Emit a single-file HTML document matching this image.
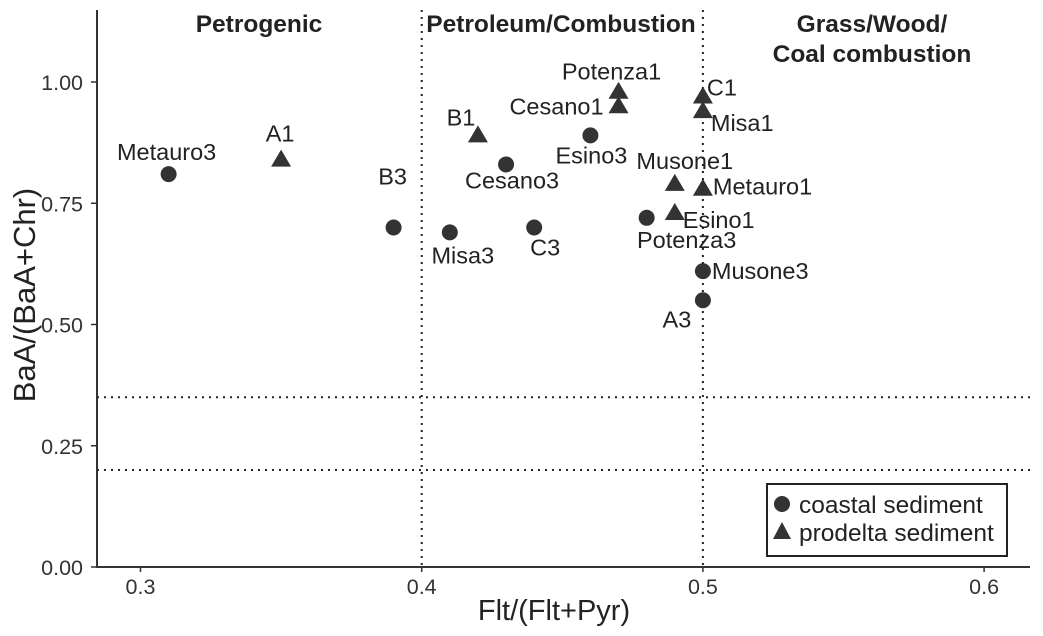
<!DOCTYPE html>
<html><head><meta charset="utf-8"><style>
body{margin:0;background:#fff;}
svg{display:block;font-family:"Liberation Sans",Arial,sans-serif;}
</style></head><body>
<svg id="chart" width="1043" height="636" viewBox="0 0 1043 636"></svg>
<script>
const coastalNames=["Metauro3","B3","Misa3","Cesano3","C3","Esino3","Potenza3","Musone3","A3"];
const coastalX=[0.31,0.39,0.41,0.43,0.44,0.46,0.48,0.50,0.50];
const coastalY=[0.81,0.70,0.69,0.83,0.70,0.89,0.72,0.61,0.55];
const prodeltaNames=["A1","B1","Potenza1","Cesano1","C1","Misa1","Musone1","Metauro1","Esino1"];
const prodeltaX=[0.35,0.42,0.47,0.47,0.50,0.50,0.49,0.50,0.49];
const prodeltaY=[0.84,0.89,0.98,0.95,0.97,0.94,0.79,0.78,0.73];
const xTicks=[0.3,0.4,0.5,0.6];
const yTicks=[0,0.25,0.5,0.75,1.0];
const yTickLabels=["0.00","0.25","0.50","0.75","1.00"];
const vLines=[0.4,0.5];
const hLines=[0.35,0.2];
// label offsets (px) relative to point, with anchor
const coastalOff=[[-2,-22,'middle'],[-1,-51,'middle'],[13,23,'middle'],[6,16,'middle'],[11,20,'middle'],[1,20,'middle'],[40,22,'middle'],[9,0,'start'],[-26,19,'middle']];
const prodeltaOff=[[-1,-26,'middle'],[-17,-18,'middle'],[-7,-20,'middle'],[-15,0,'end'],[4,-9,'start'],[8,12,'start'],[10,-23,'middle'],[10,-2,'start'],[8,7,'start']];

const L=97,R=1030,T=10,B=567;
const sx=v=>140.5+(v-0.3)*2812;
const sy=v=>567-v*485;
const svg=document.getElementById('chart');
const NS='http://www.w3.org/2000/svg';
function mk(tag,attrs,parent){const e=document.createElementNS(NS,tag);for(const k in attrs)e.setAttribute(k,attrs[k]);(parent||svg).appendChild(e);return e;}

vLines.forEach((v,i)=>{const l=mk('line',{x1:sx(v),x2:sx(v),y1:T,y2:B,stroke:'#222','stroke-width':2,'stroke-dasharray':'2,5'});

});
hLines.forEach((v,i)=>{const l=mk('line',{x1:L,x2:R,y1:sy(v),y2:sy(v),stroke:'#222','stroke-width':2,'stroke-dasharray':'2,5'});

});

const ax=mk('path',{d:`M${L},${T}V${B}H${R}`,fill:'none',stroke:'#333','stroke-width':2});


xTicks.forEach((v,i)=>{mk('line',{x1:sx(v),x2:sx(v),y1:B,y2:B+5,stroke:'#333','stroke-width':1.5});
const t=mk('text',{x:sx(v),y:B+27,'text-anchor':'middle','font-size':21.5,fill:'#333'});t.textContent=v.toFixed(1);

});
yTicks.forEach((v,i)=>{mk('line',{x1:L-6,x2:L,y1:sy(v),y2:sy(v),stroke:'#333','stroke-width':1.5});
const t=mk('text',{x:L-14,y:sy(v)+8,'text-anchor':'end','font-size':21.5,fill:'#333'});t.textContent=yTickLabels[i];

});
const xt=mk('text',{x:554,y:620,'text-anchor':'middle','font-size':29,fill:'#222'});xt.textContent='Flt/(Flt+Pyr)';


const yt=mk('text',{x:0,y:0,transform:'translate(35,295) rotate(-90)','text-anchor':'middle','font-size':31,fill:'#222'});yt.textContent='BaA/(BaA+Chr)';



[["Petrogenic",259,32],["Petroleum/Combustion",561,32],["Grass/Wood/",872,32],["Coal combustion",872,62]].forEach(r=>{
const t=mk('text',{x:r[1],y:r[2],'text-anchor':'middle','font-size':24.5,'font-weight':'bold',fill:'#222'});t.textContent=r[0];

});

function label(name,x,y,off){const t=mk('text',{x:x+off[0],y:y+off[1]+8,'text-anchor':off[2],'font-size':23.5,fill:'#222'});t.textContent=name;

}
coastalX.forEach((v,i)=>{const x=sx(v),y=sy(coastalY[i]);
const c=mk('circle',{cx:x,cy:y,r:8,fill:'#333'});


label(coastalNames[i],x,y,coastalOff[i]);});
prodeltaX.forEach((v,i)=>{const x=sx(v),y=sy(prodeltaY[i]);
const p=mk('polygon',{points:`${x},${y-10} ${x-10},${y+7} ${x+10},${y+7}`,fill:'#333'});


label(prodeltaNames[i],x,y,prodeltaOff[i]);});

const lg=mk('g',{});


mk('rect',{x:767,y:484,width:240,height:72,fill:'#fff',stroke:'#222','stroke-width':2},lg);
mk('circle',{cx:782,cy:504,r:8,fill:'#333'},lg);
const l1=mk('text',{x:799,y:513,'font-size':24.5,fill:'#222'},lg);l1.textContent='coastal sediment';


mk('polygon',{points:'782,522 773,539 791,539',fill:'#333'},lg);
const l2=mk('text',{x:799,y:541,'font-size':24.5,fill:'#222'},lg);l2.textContent='prodelta sediment';


</script>
</body></html>
